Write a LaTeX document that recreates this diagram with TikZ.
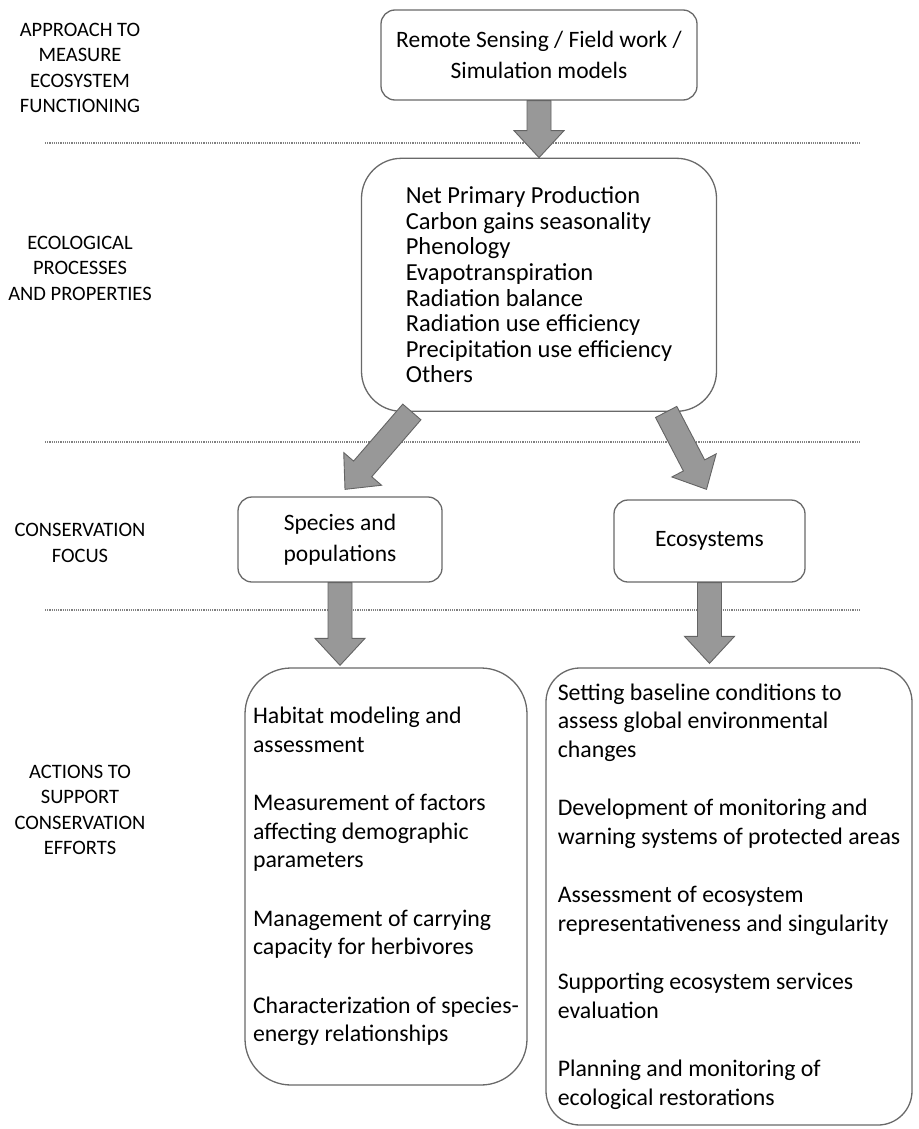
\documentclass[tikz,border=0pt]{standalone}
\usepackage{fontspec}
\setmainfont{Carlito}
\usetikzlibrary{calc,positioning}
\definecolor{boxline}{RGB}{105,105,105}
\definecolor{arrowfill}{RGB}{152,152,152}
\definecolor{arrowline}{RGB}{100,100,100}
\tikzstyle{stage}=[
	rectangle,
	rounded corners=14pt,
	draw=boxline,
	line width=1.3pt,
	fill=white,
	align=center,
	font=\fontsize{23.5}{31}\selectfont
]
\tikzstyle{listbox}=[
	stage,
	align=left,
	font=\fontsize{23.8}{28.5}\selectfont
]
\tikzstyle{level}=[
	align=center,
	font=\fontsize{20.5}{25.5}\selectfont
]
\tikzstyle{fatarrow}=[
	draw=arrowline,
	fill=arrowfill,
	line width=0.9pt,
	line join=miter
]
\tikzstyle{divider}=[
	draw=black!50,
	line width=1.1pt,
	dash pattern=on 1.1pt off 1.1pt
]
% block arrow from #1 to #2 (tip)
\newcommand{\fatarrow}[2]{%
	\path (#1) coordinate (fa-s) (#2) coordinate (fa-t);
	\path ($(fa-t)!27pt!(fa-s)$) coordinate (fa-h);
	\draw[fatarrow] ($(fa-s)!12pt!90:(fa-t)$) -- ($(fa-h)!12pt!90:(fa-t)$)
		-- ($(fa-h)!25pt!90:(fa-t)$) -- (fa-t) -- ($(fa-h)!25pt!-90:(fa-t)$)
		-- ($(fa-h)!12pt!-90:(fa-t)$) -- ($(fa-s)!12pt!-90:(fa-t)$) -- cycle;
}

\begin{document}
\begin{tikzpicture}[x=1pt,y=1pt]
\useasboundingbox (0,0) rectangle (918,-1129);

% levels
\draw[divider] (45,-143) -- (860,-143);
\draw[divider] (45,-442) -- (860,-442);
\draw[divider] (45,-610) -- (860,-610);

\node [level] (lvlApproach) at (80,-68) {APPROACH TO\\MEASURE\\ECOSYSTEM\\FUNCTIONING};
\node [level] (lvlProcess) at (80,-268) {ECOLOGICAL\\PROCESSES\\AND PROPERTIES};
\node [level] (lvlFocus) at (80,-543) {CONSERVATION\\FOCUS};
\node [level] (lvlActions) at (80,-810) {ACTIONS TO\\SUPPORT\\CONSERVATION\\EFFORTS};

% boxes
\node [stage, minimum width=316pt, minimum height=90pt] (Sensing) at (539,-55)
	{Remote Sensing / Field work /\\Simulation models};
\node [listbox, rounded corners=40pt, minimum width=355pt, minimum height=253pt,
	font=\fontsize{24.5}{25.6}\selectfont] (Processes) [below=57pt of Sensing]
	{Net Primary Production\\Carbon gains seasonality\\Phenology\\Evapotranspiration\\
	Radiation balance\\Radiation use efficiency\\Precipitation use efficiency\\Others};
\node [stage, minimum width=204pt, minimum height=85pt] (Species) at (340,-539.5)
	{Species and\\populations};
\node [stage, minimum width=191pt, minimum height=82pt] (Ecosystems) at (709.5,-541)
	{Ecosystems};
\node [listbox, rounded corners=46pt, minimum width=282pt, minimum height=417pt] (SpeciesActions) at (386,-876.5)
	{Habitat modeling and\\assessment\\[30pt]
	Measurement of factors\\affecting demographic\\parameters\\[30pt]
	Management of carrying\\capacity for herbivores\\[30pt]
	Characterization of species-\\energy relationships};
\node [listbox, rounded corners=34pt, minimum width=366pt, minimum height=457pt] (EcoActions) at (729,-896.5)
	{Setting baseline conditions to\\assess global environmental\\changes\\[30pt]
	Development of monitoring and\\warning systems of protected areas\\[30pt]
	Assessment of ecosystem\\representativeness and singularity\\[30pt]
	Supporting ecosystem services\\evaluation\\[30pt]
	Planning and monitoring of\\ecological restorations};

% arrows
\fatarrow{Sensing.south}{Processes.north}
\fatarrow{Processes.225}{$(Species.north)+(5,7)$}
\fatarrow{Processes.-45}{$(Ecosystems.north)+(-3,10)$}
\fatarrow{Species.south}{$(Species.south |- SpeciesActions.north)+(0,2)$}
\fatarrow{Ecosystems.south}{$(Ecosystems.south |- EcoActions.north)+(0,4)$}
\end{tikzpicture}
\end{document}
